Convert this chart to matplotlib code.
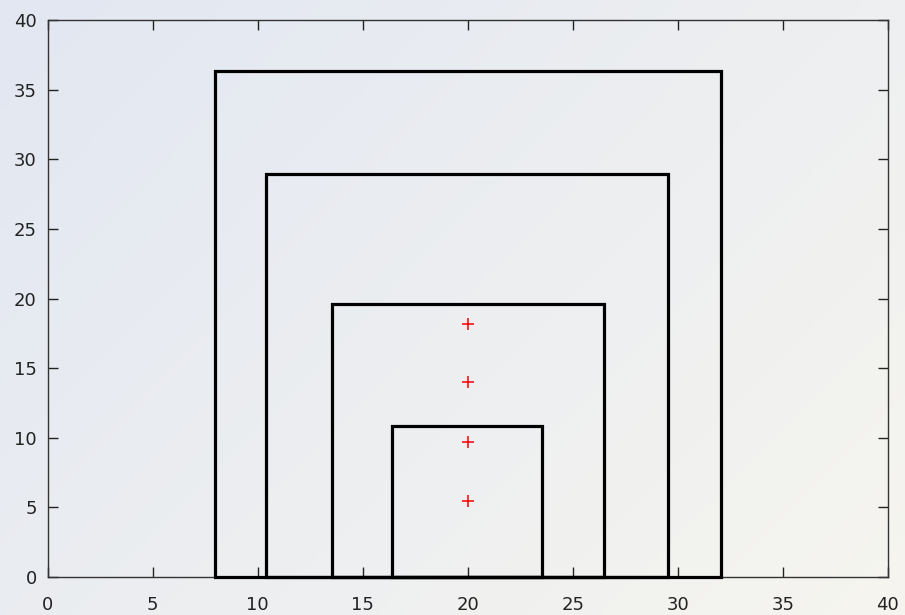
import numpy as np
import matplotlib
matplotlib.use("Agg")
import matplotlib.pyplot as plt

# Data
box_centers = [20.0, 19.95, 20.0, 19.96]
box_widths = [24.1, 19.15, 12.95, 7.15]
box_heights = [36.35, 28.95, 19.6, 10.85]
point_x = [20, 20, 20, 20]
point_y = [18.2, 14.0, 9.7, 5.45]
ticks = [0, 5, 10, 15, 20, 25, 30, 35, 40]

fig = plt.figure(figsize=(9.05, 6.15), dpi=100)

# background gradient (top-left bluish to bottom-right warm white)
bg = fig.add_axes([0, 0, 1, 1], zorder=-10)
bg.set_axis_off()
h, w = 200, 300
yy, xx = np.mgrid[0:1:h * 1j, 0:1:w * 1j]
t = np.clip((xx * 0.6 + yy * 0.4), 0, 1)[..., None]
c0 = np.array([0xe2, 0xe7, 0xf2]) / 255.0
c1 = np.array([0xf6, 0xf5, 0xef]) / 255.0
img = c0 * (1 - t) + c1 * t
bg.imshow(img, aspect='auto', extent=[0, 1, 0, 1], origin='upper', interpolation='bilinear')
bg.set_xlim(0, 1)
bg.set_ylim(0, 1)

ax = fig.add_axes([47.8 / 905, 38 / 615, 840 / 905, 557 / 615])
ax.patch.set_alpha(0)

bars = ax.bar(box_centers, box_heights, width=box_widths, fill=False,
              edgecolor='black', linewidth=2.3, clip_on=False, zorder=3)
for b in bars:
    b.set_joinstyle('miter')

ax.plot(point_x, point_y, linestyle='none', marker='+', color='red',
        markersize=8, markeredgewidth=1.1, zorder=4)

ax.set_xlim(0, 40)
ax.set_ylim(0, 40)
ax.set_xticks(ticks)
ax.set_yticks(ticks)
ax.tick_params(axis='both', direction='in', length=7.5, width=1, color='#222222',
               labelsize=13, labelcolor='#222222', top=True, right=True)
ax.tick_params(axis='x', pad=14)
ax.tick_params(axis='y', pad=8)
for s in ax.spines.values():
    s.set_color('#333333')
    s.set_linewidth(1)

fig.savefig('out.png', dpi=100)
